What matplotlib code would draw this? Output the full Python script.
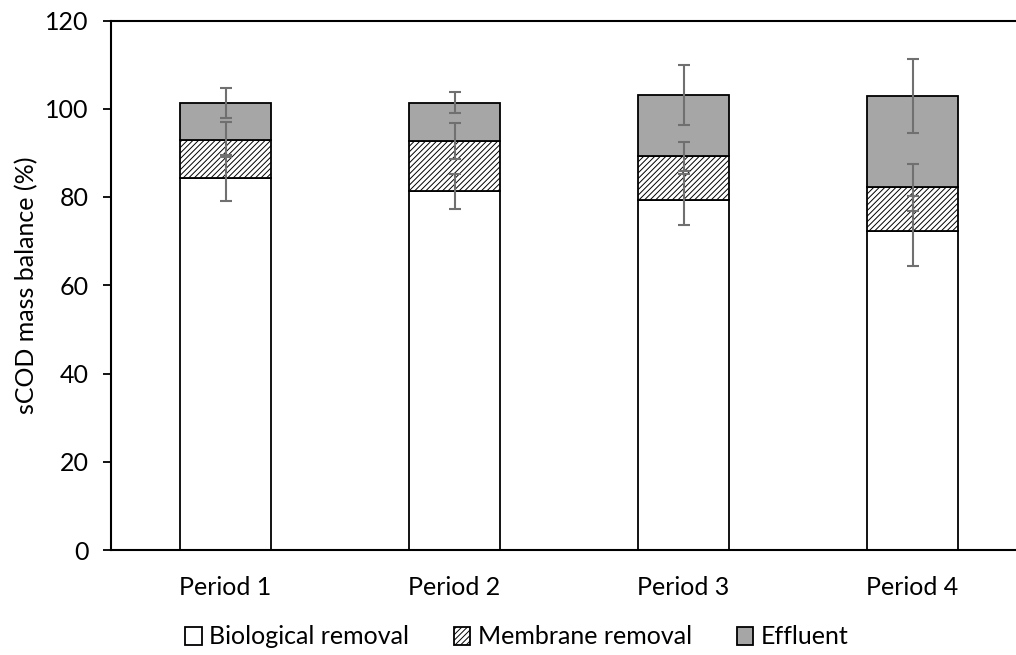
import numpy as np
import matplotlib
matplotlib.use('Agg')
import matplotlib.pyplot as plt

# %% data

periods = ['Period 1', 'Period 2', 'Period 3', 'Period 4']
bio = [84.3, 81.3, 79.4, 72.3]
membrane = [8.7, 11.4, 9.8, 9.9]
effluent = [8.2, 8.7, 13.9, 20.7]

bio_err = [5.2, 4.0, 5.8, 8.0]
membrane_err = [4.0, 4.0, 3.3, 5.3]
effluent_err = [3.4, 2.3, 6.8, 8.3]

yticks = [0, 20, 40, 60, 80, 100, 120]

# %% style

plt.rcParams['font.family'] = ['Lato', 'DejaVu Sans']
plt.rcParams['hatch.linewidth'] = 0.7
fs = 18
bar_w = 0.40
err_color = '#707070'

# %% plot

fig = plt.figure(figsize=(10.16, 6.55), dpi=100)
ax = fig.add_axes([111 / 1016, 1 - 550 / 655, 905 / 1016, 529.5 / 655])

x = np.arange(len(periods))
bio = np.array(bio)
membrane = np.array(membrane)
effluent = np.array(effluent)

ax.bar(x, bio, bar_w, color='white', edgecolor='black', linewidth=1.3,
       label='Biological removal', zorder=2)
ax.bar(x, membrane, bar_w, bottom=bio, color='white', edgecolor='black',
       hatch='//////', linewidth=1.3, label='Membrane removal', zorder=2)
ax.bar(x, effluent, bar_w, bottom=bio + membrane, color='#a6a6a6',
       edgecolor='black', linewidth=1.3, label='Effluent', zorder=2)

# error bars at stacked tops
tops = [bio, bio + membrane, bio + membrane + effluent]
errs = [bio_err, membrane_err, effluent_err]
for t, e in zip(tops, errs):
    ax.errorbar(x, t, yerr=e, fmt='none', ecolor=err_color, elinewidth=1.5,
                capsize=4, capthick=1.5, zorder=5)

ax.set_xlim(-0.5, -0.5 + 905 / 229)
ax.set_ylim(0, 120)
ax.set_yticks(yticks)
ax.set_xticks(x)
ax.set_xticklabels(periods, fontsize=fs)
ax.tick_params(axis='x', length=0, pad=19)
ax.tick_params(axis='y', labelsize=fs, length=6, width=1.3, direction='out', pad=10)

for s in ['left', 'bottom', 'top']:
    ax.spines[s].set_linewidth(1.5)
ax.spines['right'].set_visible(False)

ax.set_ylabel('sCOD mass balance (%)', fontsize=18)
ax.yaxis.set_label_coords(-73 / 905, 0.5)

ax.legend(loc='center', bbox_to_anchor=(517 / 1016, 1 - 637 / 655),
          bbox_transform=fig.transFigure, ncol=3, frameon=False, fontsize=fs,
          handlelength=0.65, handleheight=0.75, handletextpad=0.3,
          columnspacing=1.8)

plt.savefig('out.png', dpi=100)
